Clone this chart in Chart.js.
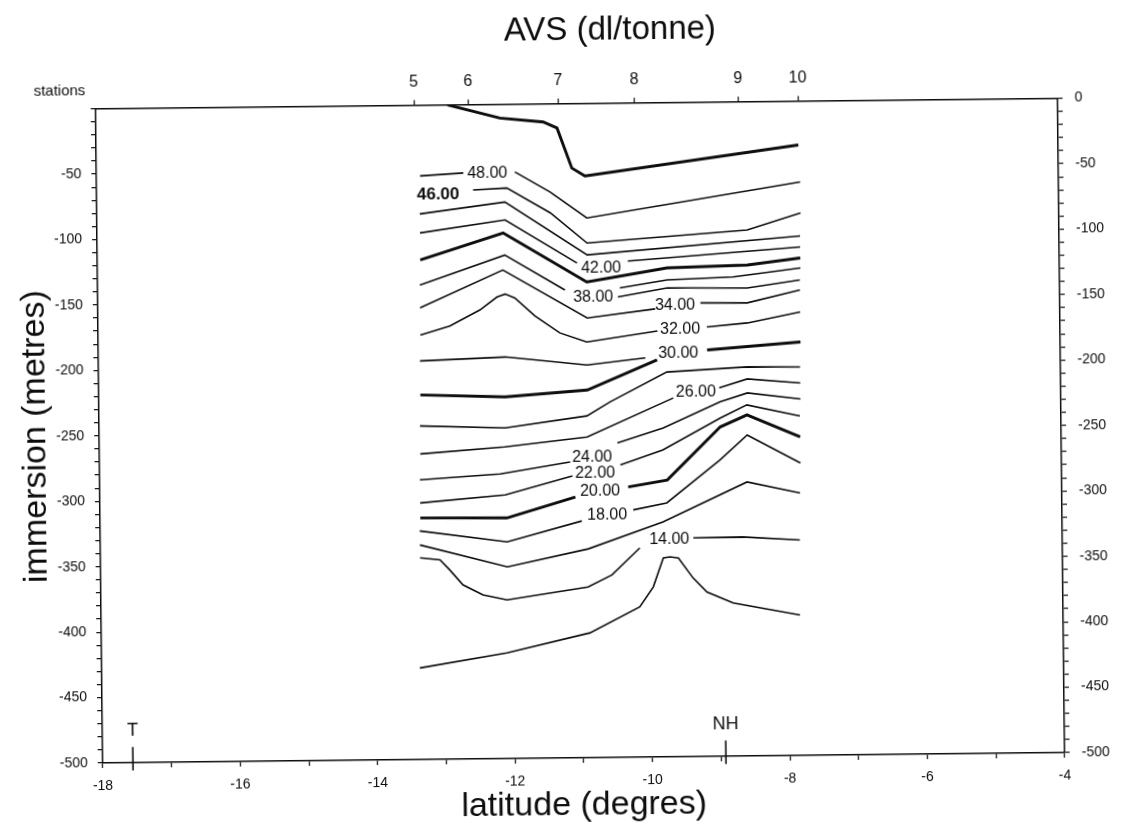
<!DOCTYPE html>
<html>
<head>
<meta charset="utf-8">
<title>AVS (dl/tonne)</title>
<script src="https://cdn.jsdelivr.net/npm/chart.js"></script>
<style>
  html, body { margin: 0; padding: 0; background: #fff; }
  #wrap { width: 1132px; height: 830px; overflow: hidden; }
  /* the scanned figure is slightly tilted */
  #avsChart { display: block; transform: rotate(-0.62deg); transform-origin: 566px 415px; }
</style>
</head>
<body>
<div id="wrap"><canvas id="avsChart" width="1132" height="830"></canvas></div>
<script>
// latitude (degres) / immersion (metres) of each contour, null = gap for the label
const lat50 = [-12.88, -12.12, -11.49, -11.29, -11.08, -10.89, -7.78];
const dep50 = [0, -10.5, -13.9, -18.6, -49.3, -55.5, -33.5];
const lat48 = [-13.29, -12.66, null, -11.91, -11.40, -10.87, -7.76];
const dep48 = [-54.1, -52.2, null, -51.8, -67.4, -87.6, -61.8];
const lat46 = [-12.52, -12.03, -11.40, -10.87, -8.54, -7.76];
const dep46 = [-65.2, -64.0, -83.4, -106.7, -98.1, -85.5];
const lat44 = [-13.30, -12.06, -10.87, -7.77];
const dep44 = [-83.1, -74.7, -115.8, -103.1];
const lat42 = [-13.30, -12.06, -11.02, null, -10.28, -7.77];
const dep42 = [-97.6, -88.4, -121.9, null, -120.8, -111.5];
const lat40 = [-13.30, -12.09, -10.88, -9.71, -8.54, -7.77];
const dep40 = [-118.3, -98.3, -136.5, -126.4, -124.8, -119.9];
const lat38 = [-13.31, -12.07, -11.20, null, -10.40, -9.71, -8.75, -7.77];
const dep38 = [-137.4, -115.2, -142.4, null, -141.3, -135.6, -133.8, -127.5];
const lat37 = [-10.43, -9.71, -8.55, -7.78];
const dep37 = [-148.2, -141.7, -142.4, -136.7];
const lat36 = [-13.31, -12.10, -10.88, -9.89, null, -9.23, -8.55, -7.78];
const dep36 = [-154.9, -126.6, -164.0, -157.6, null, -153.4, -153.8, -144.3];
const lat34 = [-13.31, -12.88, -12.44, -12.19, -12.07, -11.93, -11.64, -11.28, -10.89, -9.86, null, -9.14, -8.55, -7.78];
const dep34 = [-175.6, -168.9, -157.0, -147.2, -145.0, -148.1, -162.0, -175.2, -182.3, -174.5, null, -171.8, -169.1, -161.1];
const lat32 = [-13.32, -12.08, -10.89, -10.04];
const dep32 = [-195.4, -193.1, -199.9, -195.0];
const lat30 = [-13.32, -12.09, -10.89, -9.87, null, -9.14, -7.78];
const dep30 = [-221.4, -223.6, -219.0, -196.6, null, -189.4, -184.1];
const lat28 = [-13.33, -12.09, -10.90, -10.56, -9.73, -8.56, -7.79];
const dep28 = [-245.1, -247.3, -238.8, -228.3, -205.9, -202.7, -203.2];
const lat26 = [-13.33, -12.10, -10.90, -9.64, null, -8.97, -8.56, -7.79];
const dep26 = [-266.5, -261.8, -254.9, -225.8, null, -218.5, -211.9, -215.4];
const lat24 = [-13.34, -12.17, -11.15, null, -10.46, -9.79, -8.96, -8.56, -7.79];
const dep24 = [-286.3, -282.4, -273.8, null, -259.7, -248.6, -229.2, -222.6, -227.6];
const lat22 = [-13.34, -12.10, -11.12, null, -10.42, -9.80, -8.96, -8.57, -7.80];
const dep22 = [-303.9, -298.5, -284.5, null, -276.5, -265.4, -241.5, -231.7, -240.6];
const lat20 = [-13.34, -12.08, -11.08, null, -10.31, -9.74, -8.96, -8.57, -7.80];
const dep20 = [-315.4, -316.1, -300.6, null, -293.4, -288.4, -248.3, -239.4, -256.6];
const lat18 = [-13.35, -12.08, -10.99, null, -10.24, -9.75, -8.97, -8.57, -7.80];
const dep18 = [-325.3, -334.4, -319.0, null, -311.0, -305.9, -273.5, -254.7, -276.5];
const lat16 = [-13.35, -12.08, -10.90, -9.81, -8.58, -7.81];
const dep16 = [-336.0, -353.5, -340.4, -320.4, -290.6, -299.4];
const lat14 = [-13.35, -13.06, -12.92, -12.73, -12.44, -12.09, -10.91, -10.56, -10.15, null, -9.37, -8.65, -7.82];
const dep14 = [-345.9, -347.6, -355.3, -366.9, -374.7, -378.7, -369.5, -360.5, -340.1, null, -332.9, -332.6, -335.3];
const lat12 = [-13.37, -12.10, -10.89, -10.16, -9.96, -9.81, -9.71, -9.59, -9.38, -9.18, -8.80, -7.83];
const dep12 = [-430.0, -419.2, -404.6, -385.2, -370.0, -347.9, -347.2, -348.1, -363.5, -374.3, -382.9, -392.6];

// contour labels
const labelText = ['48.00', '46.00', '42.00', '38.00', '34.00', '32.00', '30.00', '26.00', '24.00', '22.00', '20.00', '18.00', '14.00'];
const labelLat = [-12.31, -13.03, -10.67, -10.79, -9.60, -9.53, -9.56, -9.31, -10.83, -10.79, -10.72, -10.62, -9.72];
const labelDepth = [-52.4, -68.8, -125.9, -148.0, -154.8, -173.1, -191.5, -221.4, -270.2, -282.4, -296.2, -314.6, -334.2];

// stations on the top axis
const stationLat = [-13.37, -12.58, -11.27, -10.16, -8.65, -7.78];
const stationLabels = ['5', '6', '7', '8', '9', '10'];

// T and NH marks on the bottom axis
const markerLat = [-17.56, -8.93];
const markerText = ['T', 'NH'];
const markerDepth = [-488, -506];

const FONT = '"Liberation Sans", Arial, Helvetica, sans-serif';
const INK = '#0d0d0d';

function makeLine(lat, dep, thick) {
    return {
        type: 'line',
        data: lat.map((v, i) => ({x: v, y: dep[i]})),
        xAxisID: 'x',
        yAxisID: 'y',
        borderColor: INK,
        borderWidth: thick ? 2.9 : 1.6,
        pointRadius: 0,
        tension: 0,
        fill: false,
        spanGaps: false
    };
}

const contours = [
    makeLine(lat50, dep50, true),
    makeLine(lat48, dep48, false),
    makeLine(lat46, dep46, false),
    makeLine(lat44, dep44, false),
    makeLine(lat42, dep42, false),
    makeLine(lat40, dep40, true),
    makeLine(lat38, dep38, false),
    makeLine(lat37, dep37, false),
    makeLine(lat36, dep36, false),
    makeLine(lat34, dep34, false),
    makeLine(lat32, dep32, false),
    makeLine(lat30, dep30, true),
    makeLine(lat28, dep28, false),
    makeLine(lat26, dep26, false),
    makeLine(lat24, dep24, false),
    makeLine(lat22, dep22, false),
    makeLine(lat20, dep20, true),
    makeLine(lat18, dep18, false),
    makeLine(lat16, dep16, false),
    makeLine(lat14, dep14, false),
    makeLine(lat12, dep12, false)
];

// vertical marks for T and NH
markerLat.forEach(function(v) {
    const ds = makeLine([v, v], markerDepth, false);
    ds.borderWidth = 1.6;
    ds.clip = false;
    contours.push(ds);
});

// texts: contour labels, T / NH, title, "stations"
const textPlugin = {
    id: 'avsText',
    afterDatasetsDraw(chart) {
        const ctx = chart.ctx;
        const xs = chart.scales.x;
        const ys = chart.scales.y;
        ctx.save();
        ctx.fillStyle = INK;
        ctx.textAlign = 'center';
        ctx.textBaseline = 'middle';
        labelText.forEach(function(t, i) {
            ctx.font = (t === '46.00' ? 'bold 17px ' : '16px ') + FONT;
            ctx.fillText(t, xs.getPixelForValue(labelLat[i]), ys.getPixelForValue(labelDepth[i]));
        });
        ctx.font = '18px ' + FONT;
        markerText.forEach(function(t, i) {
            ctx.fillText(t, xs.getPixelForValue(markerLat[i]), ys.getPixelForValue(markerDepth[0]) - 16);
        });
        ctx.font = '33px ' + FONT;
        ctx.fillText('AVS (dl/tonne)', 614, 31);
        ctx.font = '15px ' + FONT;
        ctx.fillText('stations', 63, 86);
        ctx.restore();
    }
};

const gridOpts = { drawOnChartArea: false, drawTicks: true, tickLength: 5, color: INK, lineWidth: 1.2 };
const borderOpts = { color: INK, width: 1.5 };

new Chart(document.getElementById('avsChart').getContext('2d'), {
    type: 'line',
    data: { datasets: contours },
    options: {
        responsive: false,
        animation: false,
        devicePixelRatio: 1,
        layout: { padding: 0 },
        plugins: {
            legend: { display: false },
            tooltip: { enabled: false }
        },
        scales: {
            x: {
                type: 'linear',
                position: 'bottom',
                min: -18,
                max: -4,
                ticks: {
                    stepSize: 1,
                    autoSkip: false,
                    maxRotation: 0,
                    padding: 10,
                    color: INK,
                    font: { family: FONT, size: 14 },
                    callback: v => (v % 2 === 0 ? String(v) : '')
                },
                grid: gridOpts,
                border: borderOpts,
                title: {
                    display: true,
                    text: 'latitude (degres)',
                    color: INK,
                    font: { family: FONT, size: 34 },
                    padding: { top: 0, bottom: 4 }
                },
                afterFit: function(s) { s.height = 72; }
            },
            x2: {
                type: 'linear',
                position: 'top',
                min: -18,
                max: -4,
                afterBuildTicks: function(s) {
                    s.ticks = stationLat.map(v => ({ value: v }));
                },
                ticks: {
                    autoSkip: false,
                    maxRotation: 0,
                    padding: 8,
                    color: INK,
                    font: { family: FONT, size: 16 },
                    callback: (v, i) => stationLabels[i]
                },
                grid: gridOpts,
                border: borderOpts,
                afterFit: function(s) { s.height = 103.6; }
            },
            y: {
                type: 'linear',
                position: 'left',
                min: -500,
                max: 0,
                ticks: {
                    stepSize: 10,
                    maxTicksLimit: 100,
                    autoSkip: false,
                    padding: 10,
                    color: INK,
                    font: { family: FONT, size: 14 },
                    callback: v => (v % 50 === 0 && v !== 0 ? String(v) : '')
                },
                grid: gridOpts,
                border: borderOpts,
                title: {
                    display: true,
                    text: 'immersion (metres)',
                    color: INK,
                    font: { family: FONT, size: 34 },
                    padding: { top: 15, bottom: 0 }
                },
                afterFit: function(s) { s.width = 99; }
            },
            y2: {
                type: 'linear',
                position: 'right',
                min: -500,
                max: 0,
                ticks: {
                    stepSize: 10,
                    maxTicksLimit: 100,
                    autoSkip: false,
                    padding: 12,
                    color: INK,
                    font: { family: FONT, size: 14 },
                    callback: v => (v % 50 === 0 ? String(v) : '')
                },
                grid: gridOpts,
                border: borderOpts,
                afterFit: function(s) { s.width = 71; }
            }
        }
    },
    plugins: [textPlugin]
});
</script>
</body>
</html>
